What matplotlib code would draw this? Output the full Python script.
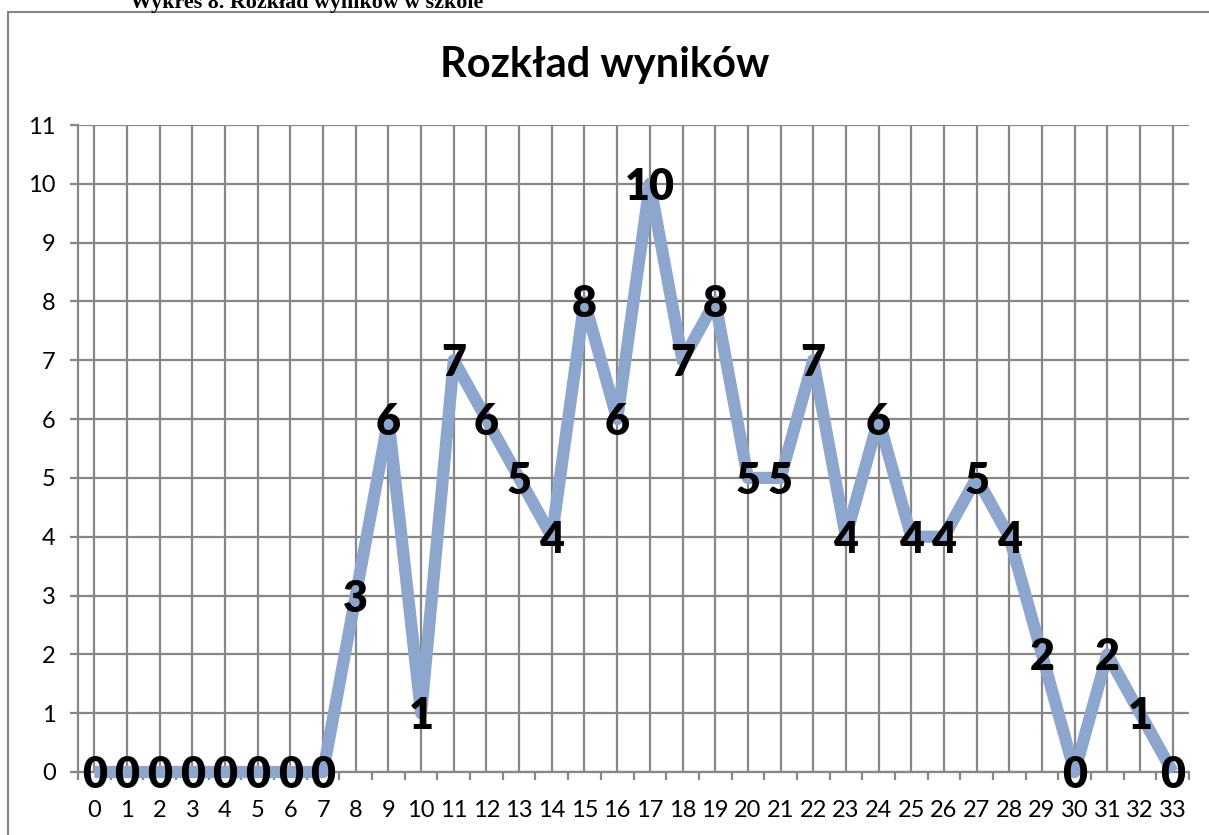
import numpy as np
import matplotlib.pyplot as plt
from matplotlib.patches import Rectangle
from matplotlib.ticker import MultipleLocator, FixedLocator

# Data
scores = list(range(34))
counts = [0, 0, 0, 0, 0, 0, 0, 0, 3, 6, 1, 7, 6, 5, 4, 8, 6, 10, 7, 8,
          5, 5, 7, 4, 6, 4, 4, 5, 4, 2, 0, 2, 1, 0]
title = 'Rozkład wyników'
caption = 'Wykres 8. Rozkład wyników w szkole'

W, H = 1209, 835
fig = plt.figure(figsize=(W / 100, H / 100), dpi=100)
ax = fig.add_axes([78 / W, 1 - 772 / H, (1189 - 78) / W, (772 - 125) / H])

grid_col = '#878787'
line_col = '#8DA6CE'
font = 'Lato'

ax.plot(scores, counts, color=line_col, lw=8.8, solid_joinstyle='round',
        solid_capstyle='butt', zorder=3, clip_on=False)

# data labels centred on each point
for x, y in zip(scores, counts):
    ax.annotate(str(y), (x, y), xytext=(0, -11.5), textcoords='offset points',
                ha='center', va='baseline', fontsize=31, fontweight='heavy',
                family=font, color='black', zorder=4, annotation_clip=False)

ax.set_xlim(-0.5, 33.5)
ax.set_ylim(0, 11)
ax.yaxis.set_major_locator(MultipleLocator(1))
ax.xaxis.set_major_locator(FixedLocator(scores))
ax.xaxis.set_minor_locator(FixedLocator(np.arange(-0.5, 34, 1)))
ax.set_xticklabels([str(s) for s in scores])

ax.grid(True, which='major', color=grid_col, lw=1.6, zorder=1)
ax.set_axisbelow(True)
for side in ['top', 'right']:
    ax.spines[side].set_visible(False)
for side in ['bottom', 'left']:
    ax.spines[side].set_color(grid_col)
    ax.spines[side].set_linewidth(1.6)

ax.tick_params(axis='x', which='major', length=0, pad=20, labelsize=17)
ax.tick_params(axis='x', which='minor', length=6, width=1.6, color=grid_col)
ax.tick_params(axis='y', length=6, width=1.6, color=grid_col, pad=10, labelsize=17)
for lab in ax.get_xticklabels() + ax.get_yticklabels():
    lab.set_family(font)

fig.text(0.5, 1 - 77 / H, title, ha='center', va='baseline', fontsize=30,
         fontweight='bold', family=font)
fig.text(130 / W, 1 - 8 / H, caption, ha='left', va='baseline', fontsize=15.8,
         fontweight='bold', family='Liberation Serif')

# outer chart frame (right and bottom edges fall outside the picture)
fig.patches.append(Rectangle((8 / W, -0.1), 1.2, (H - 12) / H + 0.1,
                             transform=fig.transFigure, fill=False,
                             edgecolor=grid_col, lw=1.5))

fig.savefig('out.png', dpi=100)
